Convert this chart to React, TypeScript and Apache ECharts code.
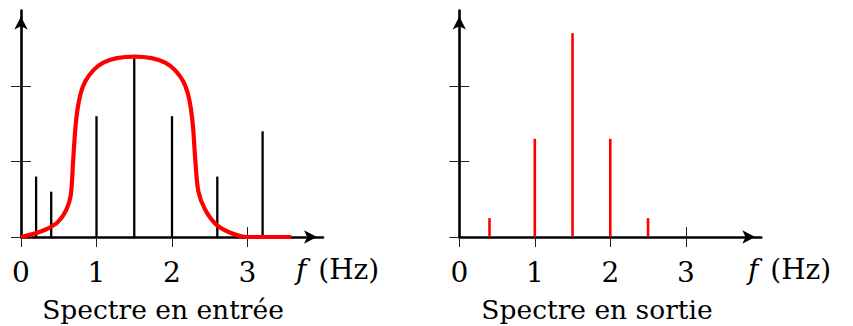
import React, { useEffect, useRef } from "react";
import * as echarts from "echarts";

// ---- data ----
const inputFreqs = [0.2, 0.4, 1, 1.5, 2, 2.6, 3.2];
const inputAmps = [0.8, 0.6, 1.6, 2.37, 1.6, 0.8, 1.4];

const filterX = [0, 0.19, 0.36, 0.49, 0.6, 0.66, 0.69, 0.72, 0.75, 0.79, 0.85, 0.96, 1.09, 1.27, 1.5, 1.73, 1.91, 2.04, 2.15, 2.21, 2.25, 2.28, 2.31, 2.35, 2.44, 2.59, 2.79, 3.0, 3.2, 3.58];
const filterY = [0, 0.05, 0.115, 0.2, 0.36, 0.56, 1.0, 1.44, 1.7, 1.9, 2.06, 2.21, 2.31, 2.37, 2.39, 2.37, 2.31, 2.21, 2.06, 1.9, 1.7, 1.44, 1.0, 0.6, 0.36, 0.16, 0.05, 0, 0, 0];

const outputFreqs = [0.4, 1, 1.5, 2, 2.5];
const outputAmps = [0.25, 1.3, 2.7, 1.3, 0.25];

const xTickValues = [0, 1, 2, 3];
const xInnerTickValues = [1, 2, 3];
const yTickValues = [0, 1, 2];
const yInnerTickValues = [1, 2];

const titles = ["Spectre en entrée", "Spectre en sortie"];
const unitLabel = "{i|f} (Hz)";

const FONT = "'DejaVu Serif', serif";
const FS_LABEL = 28;
const FS_TITLE = 26.5;

export default function App() {
  const ref = useRef<HTMLDivElement>(null);
  useEffect(() => {
    if (!ref.current) return;
    const chart = echarts.init(ref.current, undefined, { renderer: "svg" });

    const gridLefts = [21, 459.3];
    const grids = gridLefts.map((l) => ({
      left: l,
      top: 10.5,
      width: 302,
      height: 226.5,
      containLabel: false,
      outerBoundsMode: "none",
    }));

    const xAxes: any[] = [];
    const yAxes: any[] = [];
    [0, 1].forEach((g) => {
      xAxes.push({
        gridIndex: g,
        type: "value",
        min: 0,
        max: 4,
        position: "bottom",
        splitLine: { show: false },
        axisLine: {
          show: true,
          onZero: false,
          symbol: ["none", "arrow"],
          symbolSize: [10, 13],
          symbolOffset: [0, -6],
          lineStyle: { color: "#000", width: 2.6 },
        },
        axisTick: {
          show: true,
          inside: false,
          length: 10,
          customValues: xTickValues,
          lineStyle: { color: "#222", width: 1 },
        },
        axisLabel: {
          show: true,
          customValues: xTickValues,
          margin: 21,
          fontFamily: FONT,
          fontSize: FS_LABEL,
          color: "#000",
        },
      });
      xAxes.push({
        gridIndex: g,
        type: "value",
        min: 0,
        max: 4,
        position: "bottom",
        splitLine: { show: false },
        axisLine: { show: false, onZero: false },
        axisTick: {
          show: true,
          inside: true,
          length: 10,
          customValues: xInnerTickValues,
          lineStyle: { color: "#222", width: 1 },
        },
        axisLabel: { show: false },
      });
      yAxes.push({
        gridIndex: g,
        type: "value",
        min: 0,
        max: 3,
        position: "left",
        splitLine: { show: false },
        axisLine: {
          show: true,
          onZero: false,
          symbol: ["none", "arrow"],
          symbolSize: [10, 13],
          symbolOffset: [0, -6],
          lineStyle: { color: "#000", width: 2.6 },
        },
        axisTick: {
          show: true,
          inside: false,
          length: 10,
          customValues: yTickValues,
          lineStyle: { color: "#222", width: 1 },
        },
        axisLabel: { show: false },
      });
      yAxes.push({
        gridIndex: g,
        type: "value",
        min: 0,
        max: 3,
        position: "left",
        splitLine: { show: false },
        axisLine: { show: false, onZero: false },
        axisTick: {
          show: true,
          inside: true,
          length: 10,
          customValues: yInnerTickValues,
          lineStyle: { color: "#222", width: 1 },
        },
        axisLabel: { show: false },
      });
    });

    const unitText = (x: number) => ({
      type: "text",
      x,
      y: 269,
      style: {
        text: unitLabel,
        fill: "#000",
        font: `${FS_LABEL}px ${FONT}`,
        align: "left",
        verticalAlign: "middle",
        rich: {
          i: {
            fontStyle: "italic",
            fontFamily: FONT,
            fontSize: FS_LABEL,
            fill: "#000",
            padding: [0, 3, 0, 0],
          },
        },
      },
    });

    const titleText = (x: number, text: string) => ({
      type: "text",
      x,
      y: 309,
      style: {
        text,
        fill: "#000",
        font: `${FS_TITLE}px ${FONT}`,
        align: "center",
        verticalAlign: "middle",
      },
    });

    const option: any = {
      animation: false,
      backgroundColor: "#fff",
      grid: grids,
      xAxis: xAxes,
      yAxis: yAxes,
      series: [
        {
          type: "bar",
          xAxisIndex: 0,
          yAxisIndex: 0,
          barWidth: 2.3,
          itemStyle: { color: "#000" },
          data: inputFreqs.map((f, i) => [f, inputAmps[i]]),
          z: 2,
        },
        {
          type: "line",
          xAxisIndex: 0,
          yAxisIndex: 0,
          smooth: 0.3,
          symbol: "none",
          lineStyle: { color: "#ff0000", width: 4.2 },
          data: filterX.map((x, i) => [x, filterY[i]]),
          z: 3,
        },
        {
          type: "bar",
          xAxisIndex: 2,
          yAxisIndex: 2,
          barWidth: 2.6,
          itemStyle: { color: "#ff0000" },
          data: outputFreqs.map((f, i) => [f, outputAmps[i]]),
          z: 2,
        },
      ],
      graphic: [
        unitText(296),
        unitText(748),
        titleText(163, titles[0]),
        titleText(597, titles[1]),
      ],
    };
    chart.setOption(option);
    return () => chart.dispose();
  }, []);

  return (
    <div
      ref={ref}
      style={{ position: "absolute", left: 0, top: 0, width: 853, height: 326 }}
    />
  );
}
